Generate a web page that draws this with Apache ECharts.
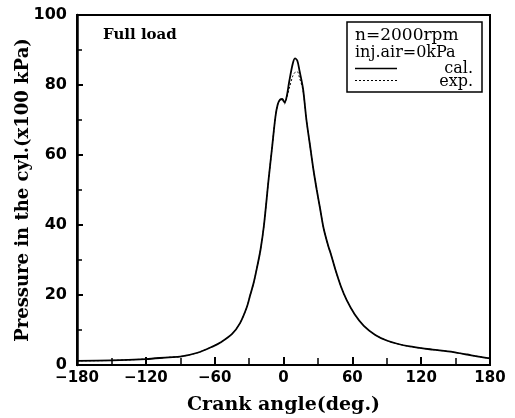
<!DOCTYPE html>
<html>
<head>
<meta charset="utf-8">
<script src="https://cdn.jsdelivr.net/npm/echarts@6/dist/echarts.min.js"></script>
<style>html,body{margin:0;padding:0;background:#fff}#c{width:515px;height:418px}</style>
</head>
<body>
<div id="c"></div>
<script>
// Crank angle (deg.) and calculated cylinder pressure (x100 kPa)
var calAngle = [-180,-150,-120,-100,-90,-75,-61,-55,-45,-38,-32,-29,-26,-23,-20,-17,-13,-10,-7,-5,-3,-1,1,3,5,8,10,12,14,17,20,23,26,29,32,35,39,41,45,50,55,62,70,80,90,100,110,120,130,148,160,170,180];
var calValue = [1.2,1.3,1.7,2.2,2.4,3.5,5.4,6.4,8.8,11.9,16.5,20,23.5,28,33,40,53,62,71,74.5,75.8,76,75,77,81,86,87.6,87,84,79,70,63,56,50,44.5,39,34,32,27.5,22.5,18.6,14.5,11.2,8.6,7,6,5.3,4.8,4.4,3.7,3,2.4,1.9];
// Experimental pressure (x100 kPa)
var expAngle = [-180,-150,-120,-100,-90,-75,-61,-55,-45,-38,-32,-29,-26,-23,-20,-17,-13,-10,-7,-5,-3,-1,1,3,5,8,10,12,14,17,20,23,26,29,32,35,39,41,45,50,55,62,70,80,90,100,110,120,130,148,160,170,180];
var expValue = [1.2,1.3,1.7,2.2,2.4,3.5,5.4,6.4,8.8,11.9,16.5,20,23.5,28,33,40,53,62,71,74.5,75.6,75.6,74.6,76.5,79,82.5,83.6,83.8,82,78.5,70,63,56,50,44.5,39,34,32,27.5,22.5,18.6,14.5,11.2,8.6,7,6,5.3,4.8,4.4,3.7,3,2.4,1.9];
var xTickLabels = ['\u2212180','\u2212120','\u221260','0','60','120','180'];
var yTickLabels = ['0','20','40','60','80','100'];
var legendLines = ['n=2000rpm','inj.air=0kPa'];
var seriesNames = ['cal.','exp.'];
var noteText = 'Full load';

function pairs(a, v){ return a.map(function(x,i){ return [x, v[i]]; }); }

var chart = echarts.init(document.getElementById('c'), null, {renderer:'canvas'});
var axisFont = 'DejaVu Sans';
chart.setOption({
  animation: false,
  backgroundColor: '#fff',
  grid: {left: 77, right: 25, top: 15, bottom: 53, outerBoundsMode: 'none', containLabel: false, show: true, borderColor: '#000', borderWidth: 2, backgroundColor: 'transparent'},
  xAxis: {
    type: 'value', min: -180, max: 180, interval: 60,
    name: 'Crank angle(deg.)', nameLocation: 'middle', nameGap: 31, nameMoveOverlap: false,
    nameTextStyle: {fontFamily: 'DejaVu Serif', fontWeight: 'bold', fontSize: 19, color: '#000'},
    axisLine: {show: true, onZero: false, lineStyle: {color: '#000', width: 2}},
    axisTick: {show: true, inside: true, length: 8, lineStyle: {color: '#000', width: 2}},
    minorTick: {show: true, splitNumber: 2, length: 7, lineStyle: {color: '#000', width: 1.5}},
    splitLine: {show: false},
    axisLabel: {margin: 6, color: '#000', fontFamily: axisFont, fontWeight: 'bold', fontSize: 15,
      formatter: function(v){ return xTickLabels[Math.round((v + 180) / 60)]; }}
  },
  yAxis: {
    type: 'value', min: 0, max: 100, interval: 20,
    name: 'Pressure in the cyl.(x100 kPa)', nameLocation: 'middle', nameGap: 45, nameMoveOverlap: false,
    nameTextStyle: {fontFamily: 'DejaVu Serif', fontWeight: 'bold', fontSize: 18, color: '#000'},
    axisLine: {show: true, onZero: false, lineStyle: {color: '#000', width: 2.5}},
    axisTick: {show: true, inside: true, length: 6, lineStyle: {color: '#000', width: 2}},
    minorTick: {show: true, splitNumber: 2, length: 5, lineStyle: {color: '#000', width: 1.5}},
    splitLine: {show: false},
    axisLabel: {margin: 10, color: '#000', fontFamily: axisFont, fontWeight: 'bold', fontSize: 16,
      formatter: function(v){ return yTickLabels[Math.round(v / 20)]; }}
  },
  series: [
    {name: seriesNames[0], type: 'line', data: pairs(calAngle, calValue), smooth: 0.3, symbol: 'none',
     lineStyle: {color: '#000', width: 1.8}, z: 3},
    {name: seriesNames[1], type: 'line', data: pairs(expAngle, expValue), smooth: 0.3, symbol: 'none',
     lineStyle: {color: '#000', width: 1, type: [2, 2]}, z: 2}
  ],
  graphic: [
    {type: 'text', left: 103, top: 28, style: {text: noteText, fontFamily: 'DejaVu Serif', fontWeight: 'bold', fontSize: 15, fill: '#000'}},
    {type: 'rect', shape: {x: 347, y: 22, width: 135, height: 70}, style: {fill: '#fff', stroke: '#000', lineWidth: 1.5}, z: 10},
    {type: 'text', x: 355, y: 36, style: {text: legendLines[0], fontFamily: 'DejaVu Serif', fontSize: 17, fill: '#000', verticalAlign: 'middle'}, z: 11},
    {type: 'text', x: 355, y: 53, style: {text: legendLines[1], fontFamily: 'DejaVu Serif', fontSize: 16, fill: '#000', verticalAlign: 'middle'}, z: 11},
    {type: 'line', shape: {x1: 355, y1: 68.5, x2: 397, y2: 68.5}, style: {stroke: '#000', lineWidth: 1.5}, z: 11},
    {type: 'line', shape: {x1: 355, y1: 80.5, x2: 397, y2: 80.5}, style: {stroke: '#000', lineWidth: 1, lineDash: [2, 2]}, z: 11},
    {type: 'text', x: 473, y: 69, style: {text: seriesNames[0], fontFamily: 'DejaVu Serif', fontSize: 16, fill: '#000', align: 'right', verticalAlign: 'middle'}, z: 11},
    {type: 'text', x: 473, y: 82, style: {text: seriesNames[1], fontFamily: 'DejaVu Serif', fontSize: 16, fill: '#000', align: 'right', verticalAlign: 'middle'}, z: 11}
  ]
});
</script>
</body>
</html>
